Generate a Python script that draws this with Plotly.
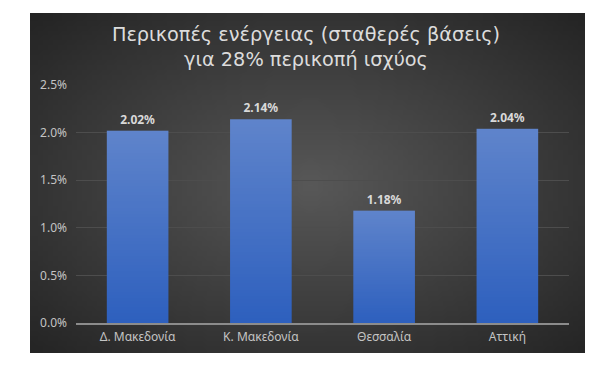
import base64, struct, zlib
import plotly.graph_objects as go

categories = ["Δ. Μακεδονία", "Κ. Μακεδονία", "Θεσσαλία", "Αττική"]
values = [2.02, 2.14, 1.18, 2.04]
tick_vals = [0.0, 0.5, 1.0, 1.5, 2.0, 2.5]
tick_text = ["0.0%", "0.5%", "1.0%", "1.5%", "2.0%", "2.5%"]
title_lines = ["Περικοπές ενέργειας (σταθερές βάσεις)", "για 28% περικοπή ισχύος"]


def png_data_uri(w, h, pixel):
    raw = b""
    for yy in range(h):
        row = bytearray([0])
        for xx in range(w):
            row += bytes(pixel(xx, yy))
        raw += bytes(row)

    def chunk(tag, data):
        c = struct.pack(">I", len(data)) + tag + data
        return c + struct.pack(">I", zlib.crc32(tag + data) & 0xffffffff)

    png = b"\x89PNG\r\n\x1a\n" + chunk(b"IHDR", struct.pack(">IIBBBBB", w, h, 8, 2, 0, 0, 0))
    png += chunk(b"IDAT", zlib.compress(raw, 9)) + chunk(b"IEND", b"")
    return "data:image/png;base64," + base64.b64encode(png).decode()


def bg_pixel(xx, yy, w=111, h=68):
    dx = (xx - w / 2) / (w / 2)
    dy = (yy - h * 0.5) / (h / 2)
    d = min(1.0, (dx * dx + dy * dy) ** 0.5 / 1.41)
    v = int(round(0x58 - (0x58 - 0x24) * d))
    return (v, v, v)


bg_uri = png_data_uri(111, 68, bg_pixel)


def bar_pixel(xx, yy, h=64):
    t = yy / (h - 1)
    top = (0x5F, 0x84, 0xCB)
    bot = (0x2E, 0x60, 0xBE)
    return tuple(int(round(a + (b - a) * t)) for a, b in zip(top, bot))


bar_uri = png_data_uri(1, 64, bar_pixel)

# page geometry
W, H = 608, 372
ml, mr, mt, mb = 76, 39, 85, 49
pw, ph = W - ml - mr, H - mt - mb
panel = (30, 13, 585, 353)

fig = go.Figure()
fig.add_trace(go.Bar(
    x=categories, y=values,
    marker=dict(color="rgba(0,0,0,0)", line=dict(width=0)),
    texttemplate="%{y:.2f}%", textposition="outside",
    textfont=dict(family="Noto Sans", size=12, color="#d9d9d9", weight="bold"),
    cliponaxis=False, hoverinfo="skip",
))

images = [dict(
    source=bg_uri, xref="paper", yref="paper",
    x=(panel[0] - ml) / pw, y=(H - mb - panel[1]) / ph,
    sizex=(panel[2] - panel[0]) / pw, sizey=(panel[3] - panel[1]) / ph,
    xanchor="left", yanchor="top", sizing="stretch", layer="below",
)]
for i, v in enumerate(values):
    images.append(dict(
        source=bar_uri, xref="x", yref="y",
        x=i - 0.25, y=v, sizex=0.5, sizey=v,
        xanchor="left", yanchor="top", sizing="stretch", layer="above",
    ))

fig.update_layout(
    width=W, height=H,
    margin=dict(l=ml, r=mr, t=mt, b=mb),
    paper_bgcolor="white", plot_bgcolor="rgba(0,0,0,0)",
    images=images,
    showlegend=False,
    bargap=0.5,
    font=dict(family="Noto Sans", color="#bfbfbf"),
    title=dict(
        text="<br>".join(title_lines),
        x=306 / W, xref="container", xanchor="center",
        y=1 - 41 / H, yref="container", yanchor="middle",
        font=dict(family="DejaVu Sans", size=19.3, color="#dcdcdc"),
    ),
    xaxis=dict(
        showgrid=False, showline=True, linecolor="#8c8c8c", linewidth=1.5,
        ticks="", tickfont=dict(size=12, color="#c4c4c4"),
        range=[-0.5, 3.5], ticklabelstandoff=2,
    ),
    yaxis=dict(
        range=[0, 2.5], tickmode="array", tickvals=tick_vals, ticktext=tick_text,
        showgrid=True, gridcolor="#4d4d4d", gridwidth=1,
        zeroline=False, showline=False, ticks="",
        tickfont=dict(size=12, color="#c4c4c4"), ticklabelstandoff=8,
    ),
)

fig.write_html("out.html")
